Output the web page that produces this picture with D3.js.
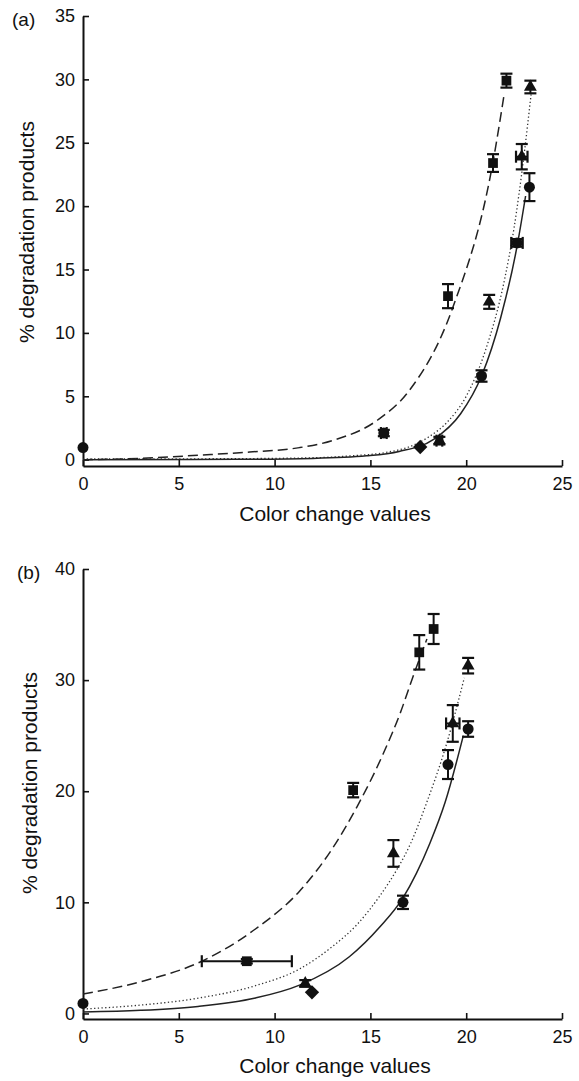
<!DOCTYPE html>
<html><head><meta charset="utf-8">
<script src="https://cdn.jsdelivr.net/npm/d3@7"></script>
<style>
body{margin:0;background:#fff}
svg{display:block}
text{font-family:"Liberation Sans",Arial,Helvetica,sans-serif;fill:#111}
</style>
</head><body>
<svg id="c" width="579" height="1081"></svg>
<script>
// ---------- data ----------
const xTicks = [0, 5, 10, 15, 20, 25];
const yTicksA = [0, 5, 10, 15, 20, 25, 30, 35];
const yTicksB = [0, 10, 20, 30, 40];
const xTitle = "Color change values";
const yTitle = "% degradation products";
const panelLabels = ["(a)", "(b)"];

// points: [x, y, yErr, xErr]
const aSquares   = [[19.05, 12.9, 0.95, 0], [21.4, 23.4, 0.7, 0], [22.1, 29.9, 0.55, 0]];
const aTriangles = [[18.6, 1.5, 0.3, 0.15], [21.2, 12.45, 0.55, 0], [22.9, 23.9, 1.0, 0.3], [23.35, 29.4, 0.5, 0]];
const aCircles   = [[0, 0.95, 0, 0], [15.7, 2.1, 0.25, 0.15], [20.8, 6.6, 0.45, 0], [22.65, 17.1, 0.3, 0.3], [23.3, 21.5, 1.1, 0]];
const aDiamonds  = [[17.6, 1.0, 0, 0]];

const bSquares   = [[8.55, 4.7, 0.2, 2.35], [14.1, 20.1, 0.65, 0], [17.55, 32.5, 1.55, 0], [18.3, 34.6, 1.35, 0]];
const bTriangles = [[11.6, 2.7, 0.3, 0], [16.2, 14.4, 1.2, 0], [19.3, 26.1, 1.65, 0.35], [20.1, 31.3, 0.7, 0]];
const bCircles   = [[0, 0.9, 0, 0], [16.7, 10.0, 0.6, 0], [19.05, 22.4, 1.3, 0], [20.1, 25.6, 0.7, 0]];
const bDiamonds  = [[11.95, 1.9, 0, 0]];

// fitted curves: [x, y]
const aDashed = [[0, 0.0], [3, 0.1], [6, 0.35], [8.7, 0.6], [11.3, 0.95], [13, 1.5], [15.4, 3.15], [17, 5.4], [19.3, 12.0], [21.4, 23.5], [22.0, 29.0]];
const aDotted = [[0, 0.05], [8, 0.08], [12, 0.15], [14, 0.3], [16, 0.62], [17, 1.0], [18, 1.75], [19, 2.95], [20, 5.0], [21, 8.6], [22, 14.2], [22.5, 18.3], [23, 23.8], [23.4, 29.0]];
const aSolid  = [[0, 0.0], [8, 0.03], [12, 0.1], [14.8, 0.3], [16.5, 0.65], [18.3, 1.6], [19.7, 3.6], [20.8, 6.6], [21.8, 11.2], [22.65, 16.8], [23.1, 20.8]];

const bDashed = [[0, 1.75], [3, 2.85], [6.2, 4.7], [9, 7.6], [11.3, 11.0], [13, 14.8], [14.3, 18.6], [15.65, 23.3], [16.55, 27.0], [17.2, 30.2], [17.95, 33.7]];
const bDotted = [[0, 0.4], [3, 0.75], [6.1, 1.4], [9, 2.5], [11.3, 4.0], [13, 6.0], [14.3, 8.0], [15.5, 10.6], [16.4, 13.0], [17.1, 15.3], [17.9, 18.8], [19.0, 24.4], [19.9, 30.2]];
const bSolid  = [[0, 0.13], [3, 0.28], [6, 0.63], [9, 1.39], [11.3, 2.55], [13.9, 5.1], [15.5, 7.8], [16.7, 10.4], [17.4, 12.6], [18.1, 15.3], [18.9, 19.0], [19.85, 25.0]];

// ---------- drawing ----------
const svg = d3.select("#c");
const ink = "#111";

const panels = [
  {label: panelLabels[0], labelPos: [12, 26], yDomain: [-0.5, 35], yRange: [466, 16], yTicks: yTicksA,
   yTitlePos: [34, 232], xTitleY: 521,
   squares: aSquares, triangles: aTriangles, circles: aCircles, diamonds: aDiamonds,
   dashed: aDashed, dotted: aDotted, solid: aSolid},
  {label: panelLabels[1], labelPos: [17, 579], yDomain: [-0.5, 40], yRange: [1019, 569], yTicks: yTicksB,
   yTitlePos: [37, 783], xTitleY: 1073,
   squares: bSquares, triangles: bTriangles, circles: bCircles, diamonds: bDiamonds,
   dashed: bDashed, dotted: bDotted, solid: bSolid}
];

panels.forEach(p => {
  const x = d3.scaleLinear().domain([0, 25]).range([83, 562]);
  const y = d3.scaleLinear().domain(p.yDomain).range(p.yRange);
  const g = svg.append("g");

  // axes
  const xAxis = d3.axisBottom(x).tickValues(xTicks).tickSizeInner(-6).tickSizeOuter(0).tickPadding(11);
  const yAxis = d3.axisLeft(y).tickValues(p.yTicks).tickSizeInner(-6).tickSizeOuter(0).tickPadding(8);
  const gx = g.append("g").attr("transform", `translate(0,${p.yRange[0]})`).call(xAxis);
  const gy = g.append("g").attr("transform", `translate(83,0)`).call(yAxis);
  [gx, gy].forEach(a => {
    a.select(".domain").attr("stroke", ink).attr("stroke-width", 2);
    a.selectAll(".tick line").attr("stroke", ink).attr("stroke-width", 1.6);
    a.selectAll(".tick text").attr("fill", ink).style("font-size", "18px")
      .style("font-family", '"Liberation Sans",Arial,sans-serif');
  });

  // titles
  g.append("text").attr("x", 335).attr("y", p.xTitleY).attr("text-anchor", "middle")
    .style("font-size", "21px").text(xTitle);
  g.append("text").attr("transform", `translate(${p.yTitlePos[0]},${p.yTitlePos[1]}) rotate(-90)`)
    .attr("text-anchor", "middle").style("font-size", "21px").text(yTitle);
  g.append("text").attr("x", p.labelPos[0]).attr("y", p.labelPos[1]).style("font-size", "19px").text(p.label);

  // curves
  const line = d3.line().x(d => x(d[0])).y(d => y(d[1])).curve(d3.curveMonotoneX);
  g.append("path").attr("d", line(p.dashed)).attr("fill", "none").attr("stroke", "#222")
    .attr("stroke-width", 1.5).attr("stroke-dasharray", "10,5");
  g.append("path").attr("d", line(p.dotted)).attr("fill", "none").attr("stroke", "#333")
    .attr("stroke-width", 1.3).attr("stroke-dasharray", "1.3,2.4");
  g.append("path").attr("d", line(p.solid)).attr("fill", "none").attr("stroke", "#222")
    .attr("stroke-width", 1.5);

  // error bars + markers
  const groups = [
    {data: p.diamonds, sym: d3.symbolDiamond2, size: 130},
    {data: p.circles, sym: d3.symbolCircle, size: 95},
    {data: p.triangles, sym: d3.symbolTriangle, size: 72},
    {data: p.squares, sym: d3.symbolSquare, size: 95}
  ];
  const cap = 6;
  groups.forEach(gr => {
    gr.data.forEach(d => {
      const cx = x(d[0]), cy = y(d[1]);
      if (d[2] > 0) {
        const y1 = y(d[1] - d[2]), y2 = y(d[1] + d[2]);
        g.append("line").attr("x1", cx).attr("x2", cx).attr("y1", y1).attr("y2", y2)
          .attr("stroke", ink).attr("stroke-width", 2);
        [y1, y2].forEach(yy => g.append("line").attr("x1", cx - cap).attr("x2", cx + cap)
          .attr("y1", yy).attr("y2", yy).attr("stroke", ink).attr("stroke-width", 2.2));
      }
      if (d[3] > 0) {
        const x1 = x(d[0] - d[3]), x2 = x(d[0] + d[3]);
        g.append("line").attr("x1", x1).attr("x2", x2).attr("y1", cy).attr("y2", cy)
          .attr("stroke", ink).attr("stroke-width", 2);
        [x1, x2].forEach(xx => g.append("line").attr("x1", xx).attr("x2", xx)
          .attr("y1", cy - cap).attr("y2", cy + cap).attr("stroke", ink).attr("stroke-width", 2.2));
      }
      g.append("path").attr("transform", `translate(${cx},${cy})`)
        .attr("d", d3.symbol().type(gr.sym).size(gr.size)()).attr("fill", ink);
    });
  });
});
</script>
</body></html>
